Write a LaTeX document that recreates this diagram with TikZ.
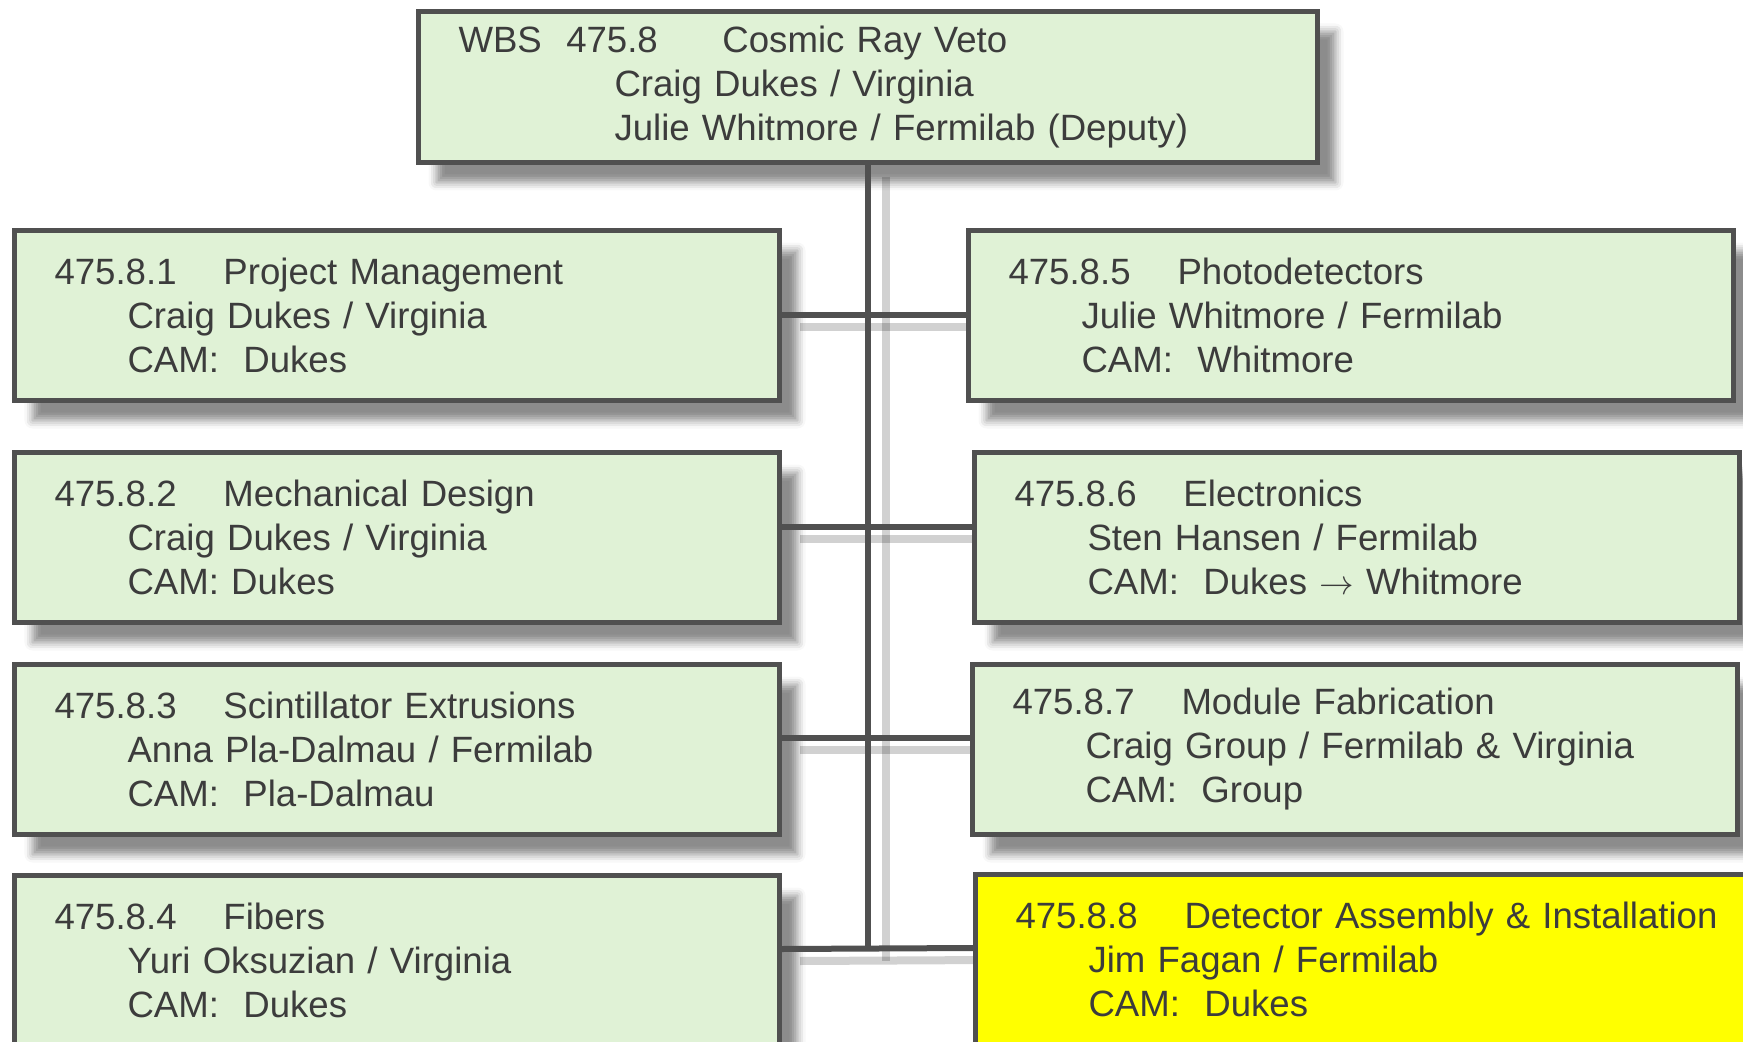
\documentclass[tikz,border=0pt]{standalone}
\usepackage{fontspec}
\setmainfont{Liberation Sans}
\usetikzlibrary{shadows.blur}

\definecolor{boxgreen}{HTML}{E0F2D6}
\definecolor{boxyellow}{HTML}{FFFF00}
\definecolor{linegray}{HTML}{505050}
\definecolor{textgray}{HTML}{3C3C3C}

\pgfdeclarelayer{background}
\pgfsetlayers{background,main}

\newcommand*{\wbstext}[4]{\mbox{\makebox[84.5pt][l]{#1}#2}\\\hspace*{36.5pt}#3\\\hspace*{36.5pt}#4}

\begin{document}
\begin{tikzpicture}
[
	x=0.5pt,
	y=-0.5pt,
	wbsbox/.style={draw=linegray,line width=2.5pt,fill=boxgreen,anchor=north west,
		inner xsep=20pt,inner ysep=0pt,minimum width=382.5pt,minimum height=85pt,
		text width=342.5pt,align=left,text=textgray,font=\fontsize{18.3}{22}\selectfont,
		blur shadow={shadow xshift=9pt,shadow yshift=-10pt,shadow blur radius=4pt,shadow opacity=45}},
	link/.style={draw=linegray,line width=3pt},
	linkshadow/.style={draw=black,opacity=0.18,line width=4pt,transform canvas={xshift=9pt,yshift=-6pt}}
]

	\useasboundingbox (0,0) rectangle (1743,1042);

	% top box
	\node[wbsbox,minimum width=449.5pt,minimum height=75.5pt,text width=409.5pt] (top) at (416,9)
	  {\makebox[132pt][l]{WBS\ \ 475.8}Cosmic Ray Veto\\\hspace*{78pt}Craig Dukes / Virginia\\\hspace*{78pt}Julie Whitmore / Fermilab (Deputy)};

	% left column
	\node[wbsbox] (b1) at (12,228) {\wbstext{475.8.1}{Project Management}{Craig Dukes / Virginia}{CAM:\ \ Dukes}};
	\node[wbsbox] (b2) at (12,450) {\wbstext{475.8.2}{Mechanical Design}{Craig Dukes / Virginia}{CAM: Dukes}};
	\node[wbsbox] (b3) at (12,662) {\wbstext{475.8.3}{Scintillator Extrusions}{Anna Pla-Dalmau / Fermilab}{CAM:\ \ Pla-Dalmau}};
	\node[wbsbox] (b4) at (12,873) {\wbstext{475.8.4}{Fibers}{Yuri Oksuzian / Virginia}{CAM:\ \ Dukes}};

	% right column
	\node[wbsbox] (b5) at (966,228) {\wbstext{475.8.5}{Photodetectors}{Julie Whitmore / Fermilab}{CAM:\ \ Whitmore}};
	\node[wbsbox] (b6) at (972,450) {\wbstext{475.8.6}{Electronics}{Sten Hansen / Fermilab}{CAM:\ \ Dukes $\rightarrow$ Whitmore}};
	\node[wbsbox] (b7) at (970,662) {\wbstext{475.8.7}{Module Fabrication}{Craig Group / Fermilab \& Virginia}{CAM:\ \ Group}};
	\node[wbsbox,fill=boxyellow,minimum width=390pt,text width=350pt] (b8) at (973,872) {\wbstext{475.8.8}{Detector Assembly \& Installation}{Jim Fagan / Fermilab}{CAM:\ \ Dukes}};

	% connectors
	\coordinate (trunkend) at ([yshift=5.75pt]b4.east -| top.south);
	\begin{pgfonlayer}{background}
		\draw[linkshadow] (top.south) -- (trunkend);
		\foreach \l/\r/\dy in {b1/b5/0pt,b2/b6/5.5pt,b3/b7/5.75pt,b4/b8/5.75pt}
			\draw[linkshadow] ([yshift=\dy]\l.east) -- ([yshift=\dy]\r.west);
	\end{pgfonlayer}
	\draw[link] (top.south) -- (trunkend);
	\foreach \l/\r/\dy in {b1/b5/0pt,b2/b6/5.5pt,b3/b7/5.75pt,b4/b8/5.75pt}
		\draw[link] ([yshift=\dy]\l.east) -- ([yshift=\dy]\r.west);

\end{tikzpicture}
\end{document}
